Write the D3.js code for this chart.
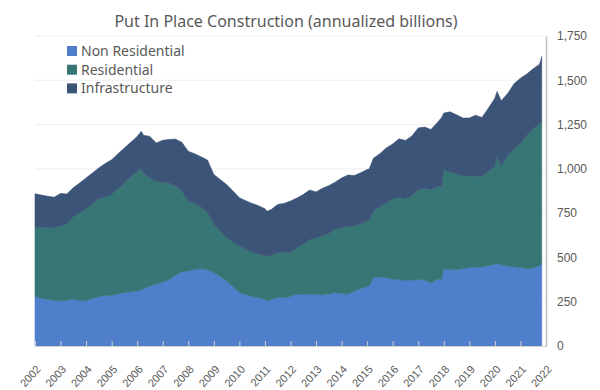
<!DOCTYPE html>
<html>
<head>
<meta charset="utf-8">
<script src="https://cdn.jsdelivr.net/npm/d3@7"></script>
<style>
  body { margin: 0; background: #fff; }
  svg { font-family: "Noto Sans", "Open Sans", sans-serif; }
</style>
</head>
<body>
<div id="chart"></div>
<script>
// Monthly points (quarterly, plus a few extra where the series jump)
const dates = [
  "2002-01","2002-04","2002-07","2002-10","2003-01","2003-04","2003-07","2003-10",
  "2004-01","2004-04","2004-07","2004-10","2005-01","2005-04","2005-07","2005-10",
  "2006-01","2006-03","2006-04","2006-07","2006-10","2007-01","2007-04","2007-07","2007-10",
  "2008-01","2008-04","2008-07","2008-10","2009-01","2009-04","2009-07","2009-10",
  "2010-01","2010-04","2010-07","2010-10","2011-01","2011-02","2011-04","2011-07","2011-10",
  "2012-01","2012-04","2012-07","2012-10","2013-01","2013-04","2013-07","2013-10",
  "2014-01","2014-04","2014-07","2014-10","2015-01","2015-02","2015-04","2015-07","2015-10",
  "2016-01","2016-04","2016-07","2016-10","2017-01","2017-04","2017-07","2017-10","2017-12",
  "2018-01","2018-04","2018-07","2018-10","2019-01","2019-04","2019-07","2019-10",
  "2020-01","2020-02","2020-04","2020-07","2020-10","2021-01","2021-04","2021-07","2021-10","2021-11"
];

const nonResidential = [
  280,270,263,258,255,258,264,258,
  255,268,280,284,287,295,302,306,
  311,318,325,339,350,360,375,398,420,
  424,432,437,430,415,392,368,335,
  302,290,280,274,262,255,262,274,274,
  280,293,293,293,292,288,294,302,
  296,293,310,325,335,340,385,390,386,
  378,374,372,371,375,373,355,377,377,
  437,432,430,438,443,445,446,455,
  462,467,458,452,447,443,438,440,455,461
];

const residential = [
  393,400,405,410,422,432,466,494,
  520,535,551,559,568,593,619,649,
  676,682,650,610,580,565,545,507,455,
  394,371,348,325,271,258,244,253,
  262,258,252,246,248,250,250,253,258,
  247,262,281,307,318,334,341,358,
  372,381,367,365,370,370,380,395,423,
  452,466,460,479,508,517,529,523,525,
  559,550,542,525,517,513,514,532,
  553,604,557,623,668,703,752,785,800,807
];

const infrastructure = [
  186,182,177,172,184,168,163,168,
  174,174,174,187,197,197,197,195,
  196,212,215,234,216,236,246,263,275,
  281,282,283,295,282,290,300,287,
  273,272,273,272,265,256,258,272,273,
  291,280,281,280,260,268,270,265,
  281,291,285,288,291,290,295,300,309,
  310,330,328,335,348,346,338,362,388,
  319,340,333,324,327,345,330,356,
  384,366,370,350,365,366,345,340,335,366
];

const seriesNames = ["Non Residential", "Residential", "Infrastructure"];
const seriesColors = ["#4f7ecb", "#387575", "#3d5479"];
const yTicks = [0, 250, 500, 750, 1000, 1250, 1500, 1750];

const width = 600, height = 390;
const margin = { top: 36, right: 54, bottom: 43, left: 35 };

const parse = d3.timeParse("%Y-%m");
const rows = dates.map((d, i) => ({
  date: parse(d),
  "Non Residential": nonResidential[i],
  "Residential": residential[i],
  "Infrastructure": infrastructure[i]
}));

const svg = d3.select("#chart").append("svg")
  .attr("width", width).attr("height", height);

const x = d3.scaleTime()
  .domain([new Date(2002, 0, 1), new Date(2022, 0, 1)])
  .range([margin.left, width - margin.right]);
const y = d3.scaleLinear()
  .domain([0, 1750])
  .range([height - margin.bottom - 1, margin.top]);

// gridlines
svg.append("g").selectAll("line").data(yTicks.slice(1)).enter().append("line")
  .attr("x1", margin.left).attr("x2", width - margin.right)
  .attr("y1", d => y(d)).attr("y2", d => y(d))
  .attr("stroke", "#efefef").attr("stroke-width", 1);

const stack = d3.stack().keys(seriesNames);
const layers = stack(rows);

const area = d3.area()
  .x(d => x(d.data.date))
  .y0(d => y(d[0]))
  .y1(d => y(d[1]));

svg.append("g").selectAll("path").data(layers).enter().append("path")
  .attr("d", area)
  .attr("fill", (d, i) => seriesColors[i])
  .attr("stroke", (d, i) => seriesColors[i])
  .attr("stroke-width", 0.6);

// bottom axis
const xAxis = svg.append("g")
  .attr("transform", `translate(0,${y(0)})`)
  .call(d3.axisBottom(x).ticks(d3.timeYear.every(1)).tickFormat(d3.timeFormat("%Y")).tickSize(-5).tickSizeOuter(0));
xAxis.select(".domain").attr("stroke", "#d0d0d0");
xAxis.selectAll(".tick line").attr("stroke", "#d0d0d0");
xAxis.selectAll(".tick text")
  .attr("fill", "#595959")
  .style("font-size", "11px")
  .attr("text-anchor", "end")
  .attr("x", 0).attr("y", 0).attr("dy", "0.35em")
  .attr("transform", "translate(3,21) rotate(-48)");

// right axis
const yAxis = svg.append("g")
  .attr("transform", `translate(${width - margin.right},0)`)
  .call(d3.axisRight(y).tickValues(yTicks).tickFormat(d3.format(",")).tickSize(0).tickPadding(11));
yAxis.select(".domain").attr("stroke", "#bfbfbf").attr("stroke-width", 1.5);
yAxis.selectAll(".tick text").attr("fill", "#595959").style("font-size", "12px");

// title
svg.append("text")
  .attr("x", 286).attr("y", 27)
  .attr("text-anchor", "middle")
  .attr("fill", "#595959")
  .style("font-size", "16px")
  .text("Put In Place Construction (annualized billions)");

// legend
const legend = svg.append("g").attr("transform", "translate(67,51)");
seriesNames.forEach((name, i) => {
  const g = legend.append("g").attr("transform", `translate(0,${i * 18.7})`);
  g.append("rect").attr("x", 0).attr("y", -5).attr("width", 10).attr("height", 10)
    .attr("fill", seriesColors[i]);
  g.append("text").attr("x", 14).attr("y", 0).attr("dy", "0.35em")
    .attr("fill", "#595959").style("font-size", "14px").text(name);
});
</script>
</body>
</html>
